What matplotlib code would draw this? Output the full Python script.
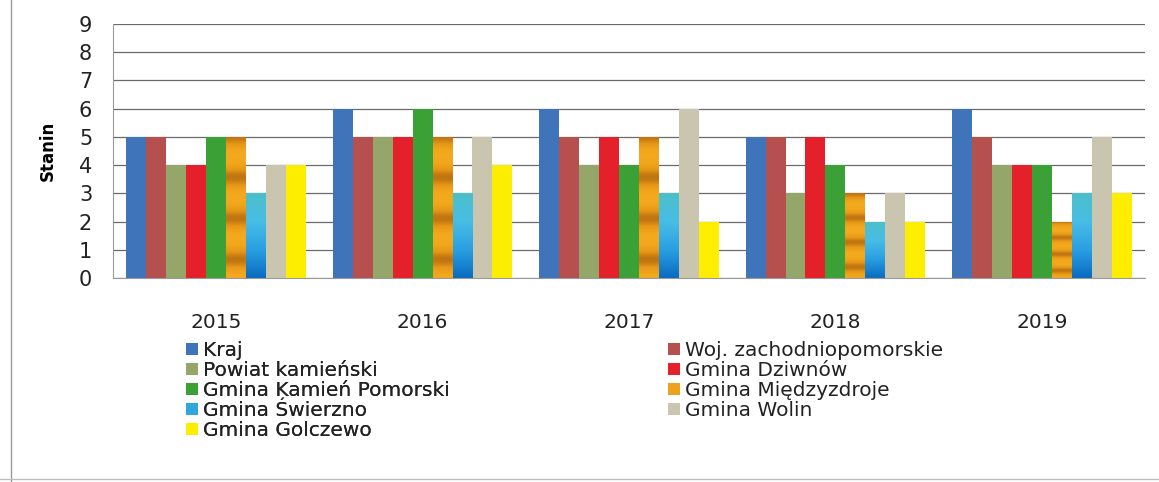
import numpy as np
import matplotlib
matplotlib.use('Agg')
import matplotlib.pyplot as plt
from matplotlib.colors import LinearSegmentedColormap

plt.rcParams['font.family'] = ['DejaVu Sans']

years = ['2015', '2016', '2017', '2018', '2019']
series = ['Kraj', 'Woj. zachodniopomorskie', 'Powiat kamieński', 'Gmina Dziwnów',
          'Gmina Kamień Pomorski', 'Gmina Międzyzdroje', 'Gmina Świerzno',
          'Gmina Wolin', 'Gmina Golczewo']
kraj = [5, 6, 6, 5, 6]
woj = [5, 5, 5, 5, 5]
powiat = [4, 5, 4, 3, 4]
dziwnow = [4, 5, 5, 5, 4]
kamien = [5, 6, 4, 4, 4]
miedzyzdroje = [5, 5, 5, 3, 2]
swierzno = [3, 3, 3, 2, 3]
wolin = [4, 5, 6, 3, 5]
golczewo = [4, 4, 2, 2, 3]
values = [kraj, woj, powiat, dziwnow, kamien, miedzyzdroje, swierzno, wolin, golczewo]
colors = ['#3f74ba', '#b5504f', '#94a66a', '#e4202a', '#3ba136',
          '#eea11c', '#2ea7dd', '#c9c5ae', '#fdee00']

fig = plt.figure(figsize=(11.59, 4.82), dpi=100)
ax = fig.add_axes([113 / 1159, 1 - 278 / 482, 1032 / 1159, 254 / 482])

x = np.arange(len(years))
n = len(series)
width = 0.87 / n

# shading used in the original for two series
orange_cmap = LinearSegmentedColormap.from_list('orange', ['#f4aa1e', '#e49516', '#b0690f'])
blue_cmap = LinearSegmentedColormap.from_list('blue', ['#0a6cc0', '#2a9fe2', '#48bde6', '#4cbfc9'])

bars_all = []
for i, (name, vals, c) in enumerate(zip(series, values, colors)):
    pos = x - 0.435 + width * (i + 0.5)
    bars = ax.bar(pos, vals, width, color=c, label=name, zorder=2)
    bars_all.append(bars)
    if name == 'Gmina Międzyzdroje':
        for b in bars:
            h = b.get_height()
            f = np.linspace(0, 1, 300)  # fraction from top
            dist = np.abs(((f + 0.145) % 0.29) - 0.145)
            band = 0.85 * np.exp(-(dist / 0.07) ** 2)
            img = ax.imshow(band[::-1][:, None], cmap=orange_cmap, vmin=0, vmax=1,
                            extent=[b.get_x(), b.get_x() + b.get_width(), 0, h],
                            origin='lower', aspect='auto', zorder=2.5)
            img.set_clip_path(b)
    if name == 'Gmina Świerzno':
        for b in bars:
            h = b.get_height()
            grad = np.linspace(0, 1, 100)[:, None]
            img = ax.imshow(grad, cmap=blue_cmap, vmin=0, vmax=1,
                            extent=[b.get_x(), b.get_x() + b.get_width(), 0, h],
                            origin='lower', aspect='auto', zorder=2.5)
            img.set_clip_path(b)

ax.set_xlim(-0.5, len(years) - 0.5)
ax.set_ylim(0, 9)
ax.set_yticks(range(10))
ax.set_xticks(x)
ax.set_xticklabels(years)
ax.tick_params(axis='y', length=0, labelsize=15, pad=15, colors='#222222')
ax.tick_params(axis='x', length=0, labelsize=14.5, pad=25, colors='#222222')
ax.yaxis.grid(True, color='#6a6a6a', linewidth=0.9, zorder=0)
ax.set_axisbelow(True)
for s in ['top', 'right']:
    ax.spines[s].set_visible(False)
ax.spines['left'].set_color('#9a9a9a')
ax.spines['bottom'].set_color('#9a9a9a')
ax.set_ylabel('Stanin', fontsize=12, fontweight='bold', labelpad=16)

order1 = [0, 2, 4, 6, 8]
order2 = [1, 3, 5, 7]
leg_kw = dict(frameon=False, fontsize=14.5, handlelength=0.6, handleheight=0.6,
              handletextpad=0.25, labelspacing=0.05, borderpad=0, loc='upper left',
              labelcolor='#222222')
leg1 = fig.legend([bars_all[i] for i in order1], [series[i] for i in order1],
                  bbox_to_anchor=(176 / 1159, 1 - 331 / 482), **leg_kw)
fig.add_artist(leg1)
fig.legend([bars_all[i] for i in order2], [series[i] for i in order2],
           bbox_to_anchor=(658 / 1159, 1 - 331 / 482), **leg_kw)

# page border of the scanned figure
fig.add_artist(plt.Line2D([0.0095, 0.0095], [0.0, 1.0], color='#999999', linewidth=1))
fig.add_artist(plt.Line2D([0.0, 1.0], [0.006, 0.006], color='#bbbbbb', linewidth=1))

fig.savefig('out.png', dpi=100)
